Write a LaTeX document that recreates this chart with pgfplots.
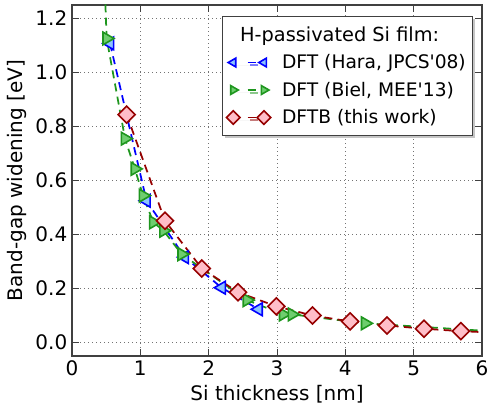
\documentclass[border=0pt]{standalone}
\usepackage{fontspec}
\setmainfont{DejaVu Sans}[Ligatures=TeXOff]
\usepackage{pgfplots}
\pgfplotsset{compat=1.18}
\usetikzlibrary{shadows}
\definecolor{hblue}{RGB}{0,0,255}
\definecolor{hbluef}{RGB}{140,195,255}
\definecolor{bgreen}{RGB}{30,150,30}
\definecolor{bgreenf}{RGB}{110,205,110}
\definecolor{dred}{RGB}{150,0,0}
\definecolor{dredf}{RGB}{255,190,200}
\begin{document}
\begin{tikzpicture}
\begin{axis}[
  name=ax,
  scale only axis, width=307.5pt, height=263.25pt,
  xmin=0, xmax=6, ymin=-0.05, ymax=1.25,
  xtick={0,1,2,3,4,5,6},
  ytick={0,0.2,0.4,0.6,0.8,1.0,1.2},
  yticklabel style={/pgf/number format/.cd, fixed, fixed zerofill, precision=1},
  /pgf/number format/assume math mode=true,
  tick label style={font=\fontsize{15}{18}\selectfont},
  label style={font=\fontsize{15}{18}\selectfont},
  xlabel={Si thickness [nm]},
  ylabel={Band-gap widening [eV]},
  grid=major,
  major grid style={black!55, line width=0.5pt, dash pattern=on 1pt off 2pt},
  axis line style={black!75, line width=0.9pt},
  tick style={black!75, line width=0.7pt},
  major tick length=5pt,
  tick align=inside,
  legend cell align=left,
  legend style={at={(0.978,0.969)}, anchor=north east, draw=black!75, line width=0.8pt,
    fill=white, drop shadow={shadow xshift=2pt, shadow yshift=-2pt, fill=black!45},
    font=\fontsize{14}{17}\selectfont, inner xsep=3pt, inner ysep=5.5pt, row sep=4.5pt},
  legend image code/.code={\path (0pt,0pt) (34pt,0pt);
    \draw[mark repeat=2, mark phase=1, #1] plot coordinates {(0pt,0pt) (11.5pt,0pt) (23pt,0pt)};},
]
\addlegendimage{legend image code/.code={}}
\addlegendentry{\hspace*{-31.5pt}\fontsize{14.5}{17}\selectfont H-passivated Si film:}

\addplot[hblue, line width=1.3pt, dash pattern=on 6pt off 4pt, mark=triangle*, mark size=5.5pt,
  mark options={rotate=90, solid, fill=hbluef, draw=hblue, line width=1.2pt},
  legend image post style={mark size=3.8pt, dash pattern=on 6pt off 30pt, dash phase=25.2pt}]
  coordinates {(0.556,1.108) (1.09,0.525) (1.65,0.316) (2.19,0.203) (2.73,0.123)};
\addlegendentry{DFT (Hara, JPCS'08)}

\addplot[bgreen, line width=1.3pt, dash pattern=on 6pt off 4pt, mark=triangle*, mark size=5.5pt,
  mark options={rotate=-90, solid, fill=bgreenf, draw=bgreen, line width=1.2pt},
  legend image post style={mark size=3.8pt, dash pattern=on 6pt off 30pt, dash phase=25.2pt}]
  coordinates {(0.46,1.45) (0.507,1.126) (0.776,0.755) (0.92,0.643) (1.04,0.544) (1.19,0.445)
  (1.34,0.414) (1.605,0.327) (2.56,0.157) (3.09,0.104) (3.22,0.104) (4.29,0.071) (7.0,0.028)};
\addlegendentry{DFT (Biel, MEE'13)}

\addplot[dred, line width=1.3pt, dash pattern=on 6pt off 4pt, mark=square*, mark size=4.5pt,
  mark options={rotate=45, solid, fill=dredf, draw=dred, line width=1.2pt},
  legend image post style={mark size=3.6pt, dash pattern=on 6pt off 30pt, dash phase=25.2pt}]
  coordinates {(0.80,0.844) (1.36,0.451) (1.90,0.274) (2.43,0.186) (2.99,0.134) (3.52,0.100)
  (4.07,0.078) (4.61,0.063) (5.15,0.051) (5.69,0.042) (6.23,0.036)};
\addlegendentry{DFTB (this work)}

\coordinate (sw) at (rel axis cs:0,0);
\coordinate (ne) at (rel axis cs:1,1);
\end{axis}
\pgfresetboundingbox
\path[use as bounding box] ([xshift=-54pt,yshift=-42.75pt]sw) rectangle ([xshift=3.75pt,yshift=3.75pt]ne);
\end{tikzpicture}
\end{document}
